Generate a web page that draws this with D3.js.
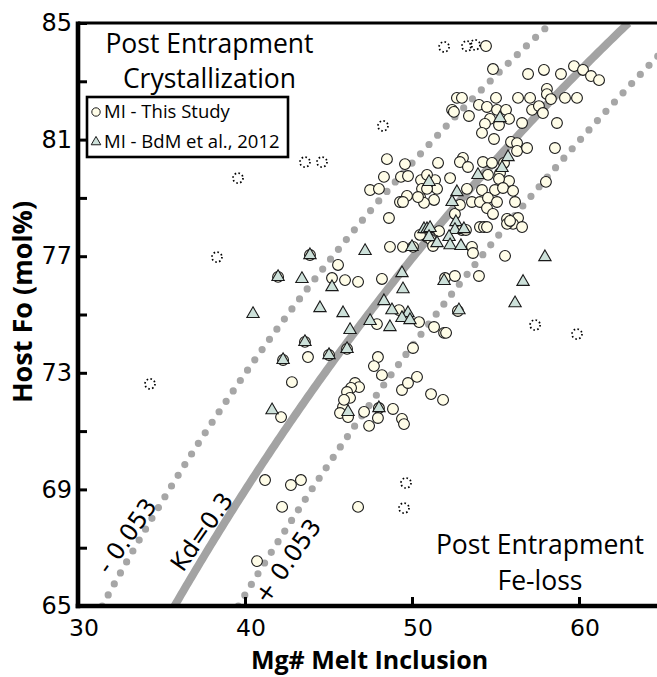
<!DOCTYPE html>
<html>
<head>
<meta charset="utf-8">
<script src="https://cdn.jsdelivr.net/npm/d3@7"></script>
<style>
  body { margin: 0; background: #fff; }
  svg { display: block; }
</style>
</head>
<body>
<svg id="chart" width="657" height="677"></svg>
<script>
// Axis ticks
const xTickValues = [30, 40, 50, 60];
const yTickValues = [65, 67, 69, 71, 73, 75, 77, 79, 81, 83, 85];
const yLabelled = [65, 69, 73, 77, 81, 85];

// Olivine–melt Fe/Mg exchange coefficients: Kd = 0.3 and 0.3 ± 0.053
const kdCurves = [
  { kd: 0.247, label: "- 0.053", style: "dotted", at: [32.93, 67.40] },
  { kd: 0.300, label: "Kd=0.3", style: "solid", at: [37.43, 67.54] },
  { kd: 0.353, label: "+ 0.053", style: "dotted", at: [42.57, 66.54] }
];

// Melt inclusions, this study: [Mg# melt, host Fo]
const thisStudy = [
  [54.43,84.21],[54.85,83.42],[56.95,83.25],[57.90,83.39],[58.92,83.25],[59.70,83.52],[60.24,83.39],
  [60.72,83.18],[61.20,83.04],[52.69,82.43],[52.99,82.43],[52.40,82.02],[52.51,81.95],[53.41,81.81],
  [54.01,82.19],[54.49,82.12],[55.03,82.43],[55.09,82.02],[55.63,82.02],[54.67,81.71],[55.81,81.71],
  [54.37,81.54],[55.21,81.50],[54.19,81.23],[54.91,81.02],[56.35,82.43],[57.07,82.43],[57.19,82.02],
  [57.60,82.15],[58.08,82.74],[58.08,82.56],[58.32,82.39],[57.84,81.91],[59.16,82.43],[59.88,82.43],
  [56.59,81.57],[58.68,81.57],[55.93,80.92],[56.29,80.88],[56.29,80.61],[56.89,80.71],[58.56,80.71],
  [58.02,79.55],[51.56,80.20],[52.28,79.68],[53.05,80.37],[52.87,80.23],[53.35,80.06],[54.25,80.23],
  [54.79,80.20],[54.55,79.79],[55.27,79.85],[55.81,79.58],[55.21,79.65],[50.96,79.55],[51.38,79.61],
  [51.50,79.31],[54.19,79.27],[54.97,79.27],[55.45,79.34],[56.05,79.24],[53.29,79.31],[51.32,78.93],
  [53.59,78.86],[54.07,78.86],[54.55,79.00],[55.09,78.86],[56.17,78.86],[54.49,78.65],[54.85,78.45],
  [52.57,78.45],[52.87,78.76],[55.69,78.28],[56.35,78.31],[56.05,78.11],[50.54,79.61],[50.90,79.79],
  [50.48,79.03],[50.72,78.83],[50.60,79.31],[50.90,79.31],[48.50,80.33],[49.58,80.16],[48.32,79.72],
  [49.34,79.72],[49.76,79.75],[47.49,79.27],[48.02,79.31],[49.70,79.07],[49.28,78.86],[49.46,78.86],
  [50.36,79.03],[48.62,78.31],[50.72,77.80],[50.90,77.66],[51.14,77.56],[51.26,77.35],[51.62,77.86],
  [52.99,77.90],[53.23,77.90],[53.59,77.32],[54.07,78.00],[54.31,78.00],[54.49,78.00],[55.57,77.01],
  [55.69,78.11],[55.87,78.21],[56.59,78.00],[50.48,77.73],[48.68,77.32],[49.46,77.32],[50.06,77.32],
  [53.65,77.11],[45.57,76.70],[45.21,76.25],[45.99,76.18],[46.77,76.12],[48.20,76.22],[51.98,76.25],
  [52.57,76.32],[54.01,76.32],[49.22,75.15],[47.90,74.67],[50.42,74.74],[51.32,74.57],[51.92,74.37],
  [52.04,74.37],[43.89,77.04],[41.98,76.29],[43.59,74.06],[42.28,73.44],[45.03,73.61],[46.11,73.82],
  [48.02,71.79],[52.75,75.12],[43.77,73.54],[42.81,72.68],[50.06,73.85],[47.96,73.54],[47.72,73.23],
  [48.20,72.92],[46.59,72.65],[46.83,72.51],[46.35,72.48],[46.11,72.34],[46.29,72.14],[45.87,71.83],
  [45.69,71.62],[46.17,71.48],[47.13,71.66],[47.96,71.45],[48.86,71.76],[49.40,72.41],[49.76,72.65],
  [50.30,72.86],[42.16,71.48],[47.43,71.18],[51.14,72.27],[51.86,72.07],[49.40,71.42],[49.52,71.24],
  [46.77,68.40],[41.20,69.32],[42.75,69.15],[43.35,69.32],[42.22,68.40],[40.72,66.54],[55.51,80.20],
  [45.93,72.07]
];

// Melt inclusions, BdM et al., 2012
const bdm2012 = [
  [55.27,81.74],[55.75,80.40],[55.39,80.03],[53.95,79.79],[51.02,79.55],[52.69,79.20],[52.40,78.86],
  [52.63,78.17],[52.57,77.90],[53.11,77.93],[50.72,77.93],[50.90,77.93],[51.08,77.97],[51.02,77.66],
  [51.50,77.45],[52.22,77.66],[52.28,77.38],[52.93,77.35],[50.00,77.32],[47.19,77.18],[57.96,76.97],
  [45.21,75.94],[49.40,76.42],[49.46,75.87],[51.92,76.15],[56.65,76.12],[56.17,75.39],[48.32,75.46],
  [48.80,75.15],[49.76,75.05],[49.40,74.88],[49.88,74.81],[47.49,74.78],[48.68,74.57],[45.87,75.05],
  [46.29,74.47],[52.81,75.15],[43.89,77.04],[41.98,76.29],[43.41,76.22],[40.48,75.02],[44.49,75.22],
  [43.59,74.06],[42.28,73.44],[45.03,73.61],[46.11,73.82],[41.62,71.72],[46.17,71.66],[48.02,71.79]
];

// Inclusions drawn with dotted outlines
const dottedPoints = [
  [51.92,84.18],[53.29,84.21],[53.77,84.25],[48.26,81.47],[43.59,80.23],[44.61,80.23],[39.58,79.68],
  [38.32,76.97],[34.31,72.62],[57.37,74.64],[59.88,74.33],[49.64,69.22],[49.52,68.36]
];

const W = 657, H = 677;
const plotLeft = 78, plotTop = 23, plotBottom = 606;
const x = d3.scaleLinear().domain([30, 65]).range([plotLeft, plotLeft + 35 * 16.7]);
const y = d3.scaleLinear().domain([65, 85]).range([plotBottom, plotTop]);

const svg = d3.select("#chart");

svg.append("defs").append("clipPath").attr("id", "plot-clip")
  .append("rect").attr("x", plotLeft).attr("y", plotTop)
  .attr("width", W - plotLeft).attr("height", plotBottom - plotTop);

// Equilibrium host Fo for a melt Mg#, sampled along Fo
function kdLine(kd) {
  const fos = d3.range(65, 85.0001, 0.1);
  return fos.map(fo => [100 / (1 + (100 / fo - 1) / kd), fo]);
}
const line = d3.line().x(d => x(d[0])).y(d => y(d[1]));

const curves = svg.append("g").attr("clip-path", "url(#plot-clip)");
kdCurves.forEach(c => {
  const p = curves.append("path").datum(kdLine(c.kd)).attr("d", line).attr("fill", "none");
  if (c.style === "solid") {
    p.attr("stroke", "#a3a3a3").attr("stroke-width", 8);
  } else {
    p.attr("stroke", "#a6a6a6").attr("stroke-width", 7.2)
     .attr("stroke-linecap", "round").attr("stroke-dasharray", "0 12.6");
  }
});

// Markers
const marks = svg.append("g").attr("clip-path", "url(#plot-clip)");
marks.selectAll("circle.study").data(thisStudy).join("circle")
  .attr("class", "study")
  .attr("cx", d => x(d[0])).attr("cy", d => y(d[1])).attr("r", 5.4)
  .attr("fill", "#fffde8").attr("stroke", "#1a1a1a").attr("stroke-width", 1.1);

const tri = d3.symbol().type(d3.symbolTriangle).size(66);
marks.selectAll("path.bdm").data(bdm2012).join("path")
  .attr("class", "bdm")
  .attr("d", tri)
  .attr("transform", d => `translate(${x(d[0])},${y(d[1])})`)
  .attr("fill", "#cde1da").attr("stroke", "#1a1a1a").attr("stroke-width", 1.1);

marks.selectAll("circle.dotted").data(dottedPoints).join("circle")
  .attr("class", "dotted")
  .attr("cx", d => x(d[0])).attr("cy", d => y(d[1])).attr("r", 5)
  .attr("fill", "none").attr("stroke", "#000").attr("stroke-width", 1.7)
  .attr("stroke-dasharray", "1.6 2.3");

// Curve labels
const labelFont = "DejaVu Sans";
kdCurves.forEach(c => {
  svg.append("text")
    .attr("transform", `translate(${x(c.at[0])},${y(c.at[1])}) rotate(-55)`)
    .attr("text-anchor", "middle").attr("dominant-baseline", "central")
    .attr("font-family", labelFont).attr("font-size", 24).attr("fill", "#000")
    .text(c.label);
});

// Axes
const yAxis = d3.axisLeft(y).tickValues(yTickValues).tickSize(-9).tickPadding(6)
  .tickFormat(d => yLabelled.includes(d) ? d : "");
const gy = svg.append("g").attr("transform", `translate(${plotLeft},0)`).call(yAxis);
gy.select(".domain").remove();
gy.selectAll(".tick line").attr("stroke", "#000").attr("stroke-width", 3);
gy.selectAll(".tick text").attr("font-family", labelFont).attr("font-size", 24).attr("fill", "#000");

const xAxis = d3.axisBottom(x).tickValues(xTickValues).tickSize(-9).tickPadding(13);
const gx = svg.append("g").attr("transform", `translate(0,${plotBottom})`).call(xAxis);
gx.select(".domain").remove();
gx.selectAll(".tick line").attr("stroke", "#000").attr("stroke-width", 3);
gx.selectAll(".tick text").attr("font-family", labelFont).attr("font-size", 23.5).attr("fill", "#000")
  .attr("dx", 5.5);

// Frame lines
svg.append("line").attr("x1", plotLeft).attr("x2", W).attr("y1", plotTop).attr("y2", plotTop)
  .attr("stroke", "#000").attr("stroke-width", 3);
svg.append("line").attr("x1", plotLeft).attr("x2", plotLeft).attr("y1", plotTop - 1.5).attr("y2", plotBottom + 2.3)
  .attr("stroke", "#000").attr("stroke-width", 4.6);
svg.append("line").attr("x1", plotLeft - 2.3).attr("x2", W).attr("y1", plotBottom).attr("y2", plotBottom)
  .attr("stroke", "#000").attr("stroke-width", 4.6);

// Axis titles
const titleFont = "'Open Sans', 'Noto Sans', sans-serif";
svg.append("text")
  .attr("x", 369.5).attr("y", 669).attr("text-anchor", "middle")
  .attr("font-family", titleFont).attr("font-weight", 700).attr("font-size", 25)
  .text("Mg# Melt Inclusion");
svg.append("text")
  .attr("transform", "translate(32,302) rotate(-90)").attr("text-anchor", "middle")
  .attr("font-family", titleFont).attr("font-weight", 700).attr("font-size", 27)
  .text("Host Fo (mol%)");

// Region annotations
function block(lines, cx, baselines) {
  lines.forEach((t, i) => {
    svg.append("text").attr("x", cx).attr("y", baselines[i]).attr("text-anchor", "middle")
      .attr("font-family", titleFont).attr("font-size", 26.5).attr("fill", "#000").text(t);
  });
}
block(["Post Entrapment", "Crystallization"], 209.5, [53, 88]);
block(["Post Entrapment", "Fe-loss"], 540, [554, 590]);

// Legend
const lg = svg.append("g");
lg.append("rect").attr("x", 87).attr("y", 97).attr("width", 201).attr("height", 60)
  .attr("fill", "#fff").attr("stroke", "#000").attr("stroke-width", 2.6);
lg.append("circle").attr("cx", 96).attr("cy", 112).attr("r", 4.2)
  .attr("fill", "#fffde8").attr("stroke", "#1a1a1a").attr("stroke-width", 1);
lg.append("path").attr("d", d3.symbol().type(d3.symbolTriangle).size(40)())
  .attr("transform", "translate(96,142)")
  .attr("fill", "#cde1da").attr("stroke", "#1a1a1a").attr("stroke-width", 1);
lg.append("text").attr("x", 104).attr("y", 118).attr("font-family", titleFont)
  .attr("font-size", 18.5).text("MI - This Study");
lg.append("text").attr("x", 104).attr("y", 148).attr("font-family", titleFont)
  .attr("font-size", 18.5).text("MI - BdM et al., 2012");
</script>
</body>
</html>
